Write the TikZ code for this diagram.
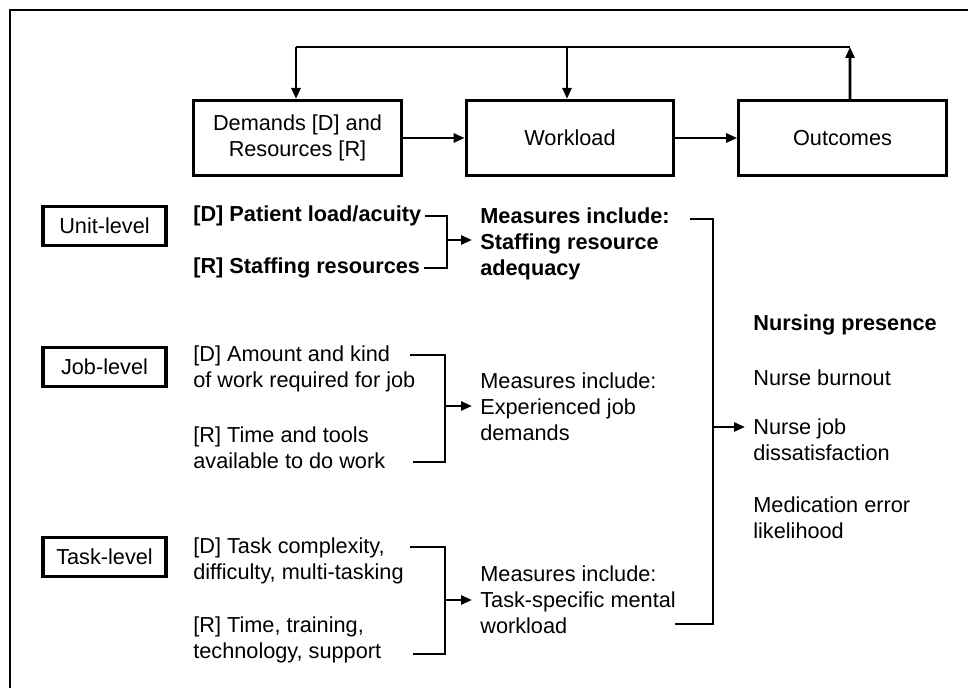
\documentclass[tikz,border=0pt]{standalone}
\usepackage{fontspec}
\setmainfont{Liberation Sans}
\usepackage{tikz}
\usetikzlibrary{
    positioning,
    arrows.meta,
    calc
}

\begin{document}
\begin{tikzpicture}[font=\fontsize{12.35}{14.8}\selectfont,
    box/.style={draw, line width=1.8pt, minimum width=4.15cm, minimum height=1.5cm,
                align=center, inner sep=2pt},
    lvl/.style={draw, line width=1.8pt, minimum width=2.46cm, minimum height=0.78cm,
                inner sep=2pt},
    txt/.style={anchor=west, align=left, inner sep=0pt},
    btxt/.style={txt, font=\fontsize{12.35}{14.8}\selectfont\bfseries},
    conn/.style={line width=1.5pt},
    arr/.style={-{Triangle[length=0.22cm, width=0.18cm]}, line width=1.5pt}]

    \useasboundingbox (0,0) rectangle (19.36,13.76);

    % ============ FRAME ============
    \draw[line width=1.4pt] (0.2,0) -- (0.2,13.56) -- (19.36,13.56);

    % ============ TOP ROW: model ============
    \node[box] (DR) at (5.95, 11.0) {Demands [D] and\\Resources [R]};
    \node[box] (WL) at (11.40, 11.0) {Workload};
    \node[box] (OC) at (16.85, 11.0) {Outcomes};

    \draw[arr] (DR.east) -- (WL.west);
    \draw[arr] (WL.east) -- (OC.west);

    % feedback loop above the boxes
    \coordinate (fbL) at (5.92, 12.82);
    \coordinate (fbM) at (11.34, 12.82);
    \coordinate (fbR) at (17.0, 12.82);
    \draw[arr] ([xshift=0.15cm]OC.north) -- (fbR);
    \draw[conn] (fbR) -- (fbL);
    \draw[arr] (fbL) -- (fbL |- DR.north);
    \draw[arr] (fbM) -- (fbM |- WL.north);

    % ============ LEFT COLUMN: levels ============
    \node[lvl] (UL) at (2.09, 9.24) {Unit-level};
    \node[lvl] (JL) at (2.09, 6.42) {Job-level};
    \node[lvl] (TL) at (2.09, 2.62) {Task-level};

    % ============ UNIT LEVEL ============
    \node[btxt] (uD) at (3.86, 9.44) {[D] Patient load/acuity};
    \node[btxt] (uR) at (3.86, 8.40) {[R] Staffing resources};
    \node[btxt] (uM) at (9.60, 8.88)
      {Measures include:\\Staffing resource\\adequacy};

    \coordinate (uB) at (8.94, 8.96);
    \draw[conn] ([xshift=2pt]uD.east) -| (uB) |- ([xshift=2pt]uR.east);
    \draw[arr] (uB) -- ([xshift=-0.16cm]uM.west |- uB);

    % ============ JOB LEVEL ============
    \node[txt] (jD) at (3.86, 6.38) {[D] Amount and kind\\of work required for job};
    \node[txt] (jR) at (3.86, 4.81) {[R] Time and tools\\available to do work};
    \node[txt] (jM) at (9.60, 5.62)
      {Measures include:\\Experienced job\\demands};

    \coordinate (jDt) at (8.20, 6.66);
    \coordinate (jRb) at (8.26, 4.52);
    \coordinate (jB) at (8.90, 5.64);
    \draw[conn] (jDt) -| (jB) |- (jRb);
    \draw[arr] (jB) -- ([xshift=-0.16cm]jM.west |- jB);

    % ============ TASK LEVEL ============
    \node[txt] (tD) at (3.86, 2.54) {[D] Task complexity,\\difficulty, multi-tasking};
    \node[txt] (tR) at (3.86, 0.96) {[R] Time, training,\\technology, support};
    \node[txt] (tM) at (9.60, 1.76)
      {Measures include:\\Task-specific mental\\workload};

    \coordinate (tDt) at (8.20, 2.82);
    \coordinate (tRb) at (8.26, 0.68);
    \coordinate (tB) at (8.90, 1.76);
    \draw[conn] (tDt) -| (tB) |- (tRb);
    \draw[arr] (tB) -- ([xshift=-0.16cm]tM.west |- tB);

    % ============ RIGHT COLUMN: outcomes ============
    \node[btxt] (oNP) at (15.06, 7.26) {Nursing presence};
    \node[txt] (oNB) at (15.06, 6.20) {Nurse burnout};
    \node[txt] (oNJ) at (15.06, 4.96) {Nurse job\\dissatisfaction};
    \node[txt] (oME) at (15.06, 3.40) {Medication error\\likelihood};

    % measures gathered into outcomes
    \coordinate (mT) at (13.80, 9.38);
    \coordinate (mB) at (13.50, 1.28);
    \coordinate (mJ) at (14.26, 5.22);
    \draw[conn] (mT) -| (mJ) |- (mB);
    \draw[arr] (mJ) -- ([xshift=-0.16cm]oNJ.west |- mJ);

  \end{tikzpicture}
\end{document}
